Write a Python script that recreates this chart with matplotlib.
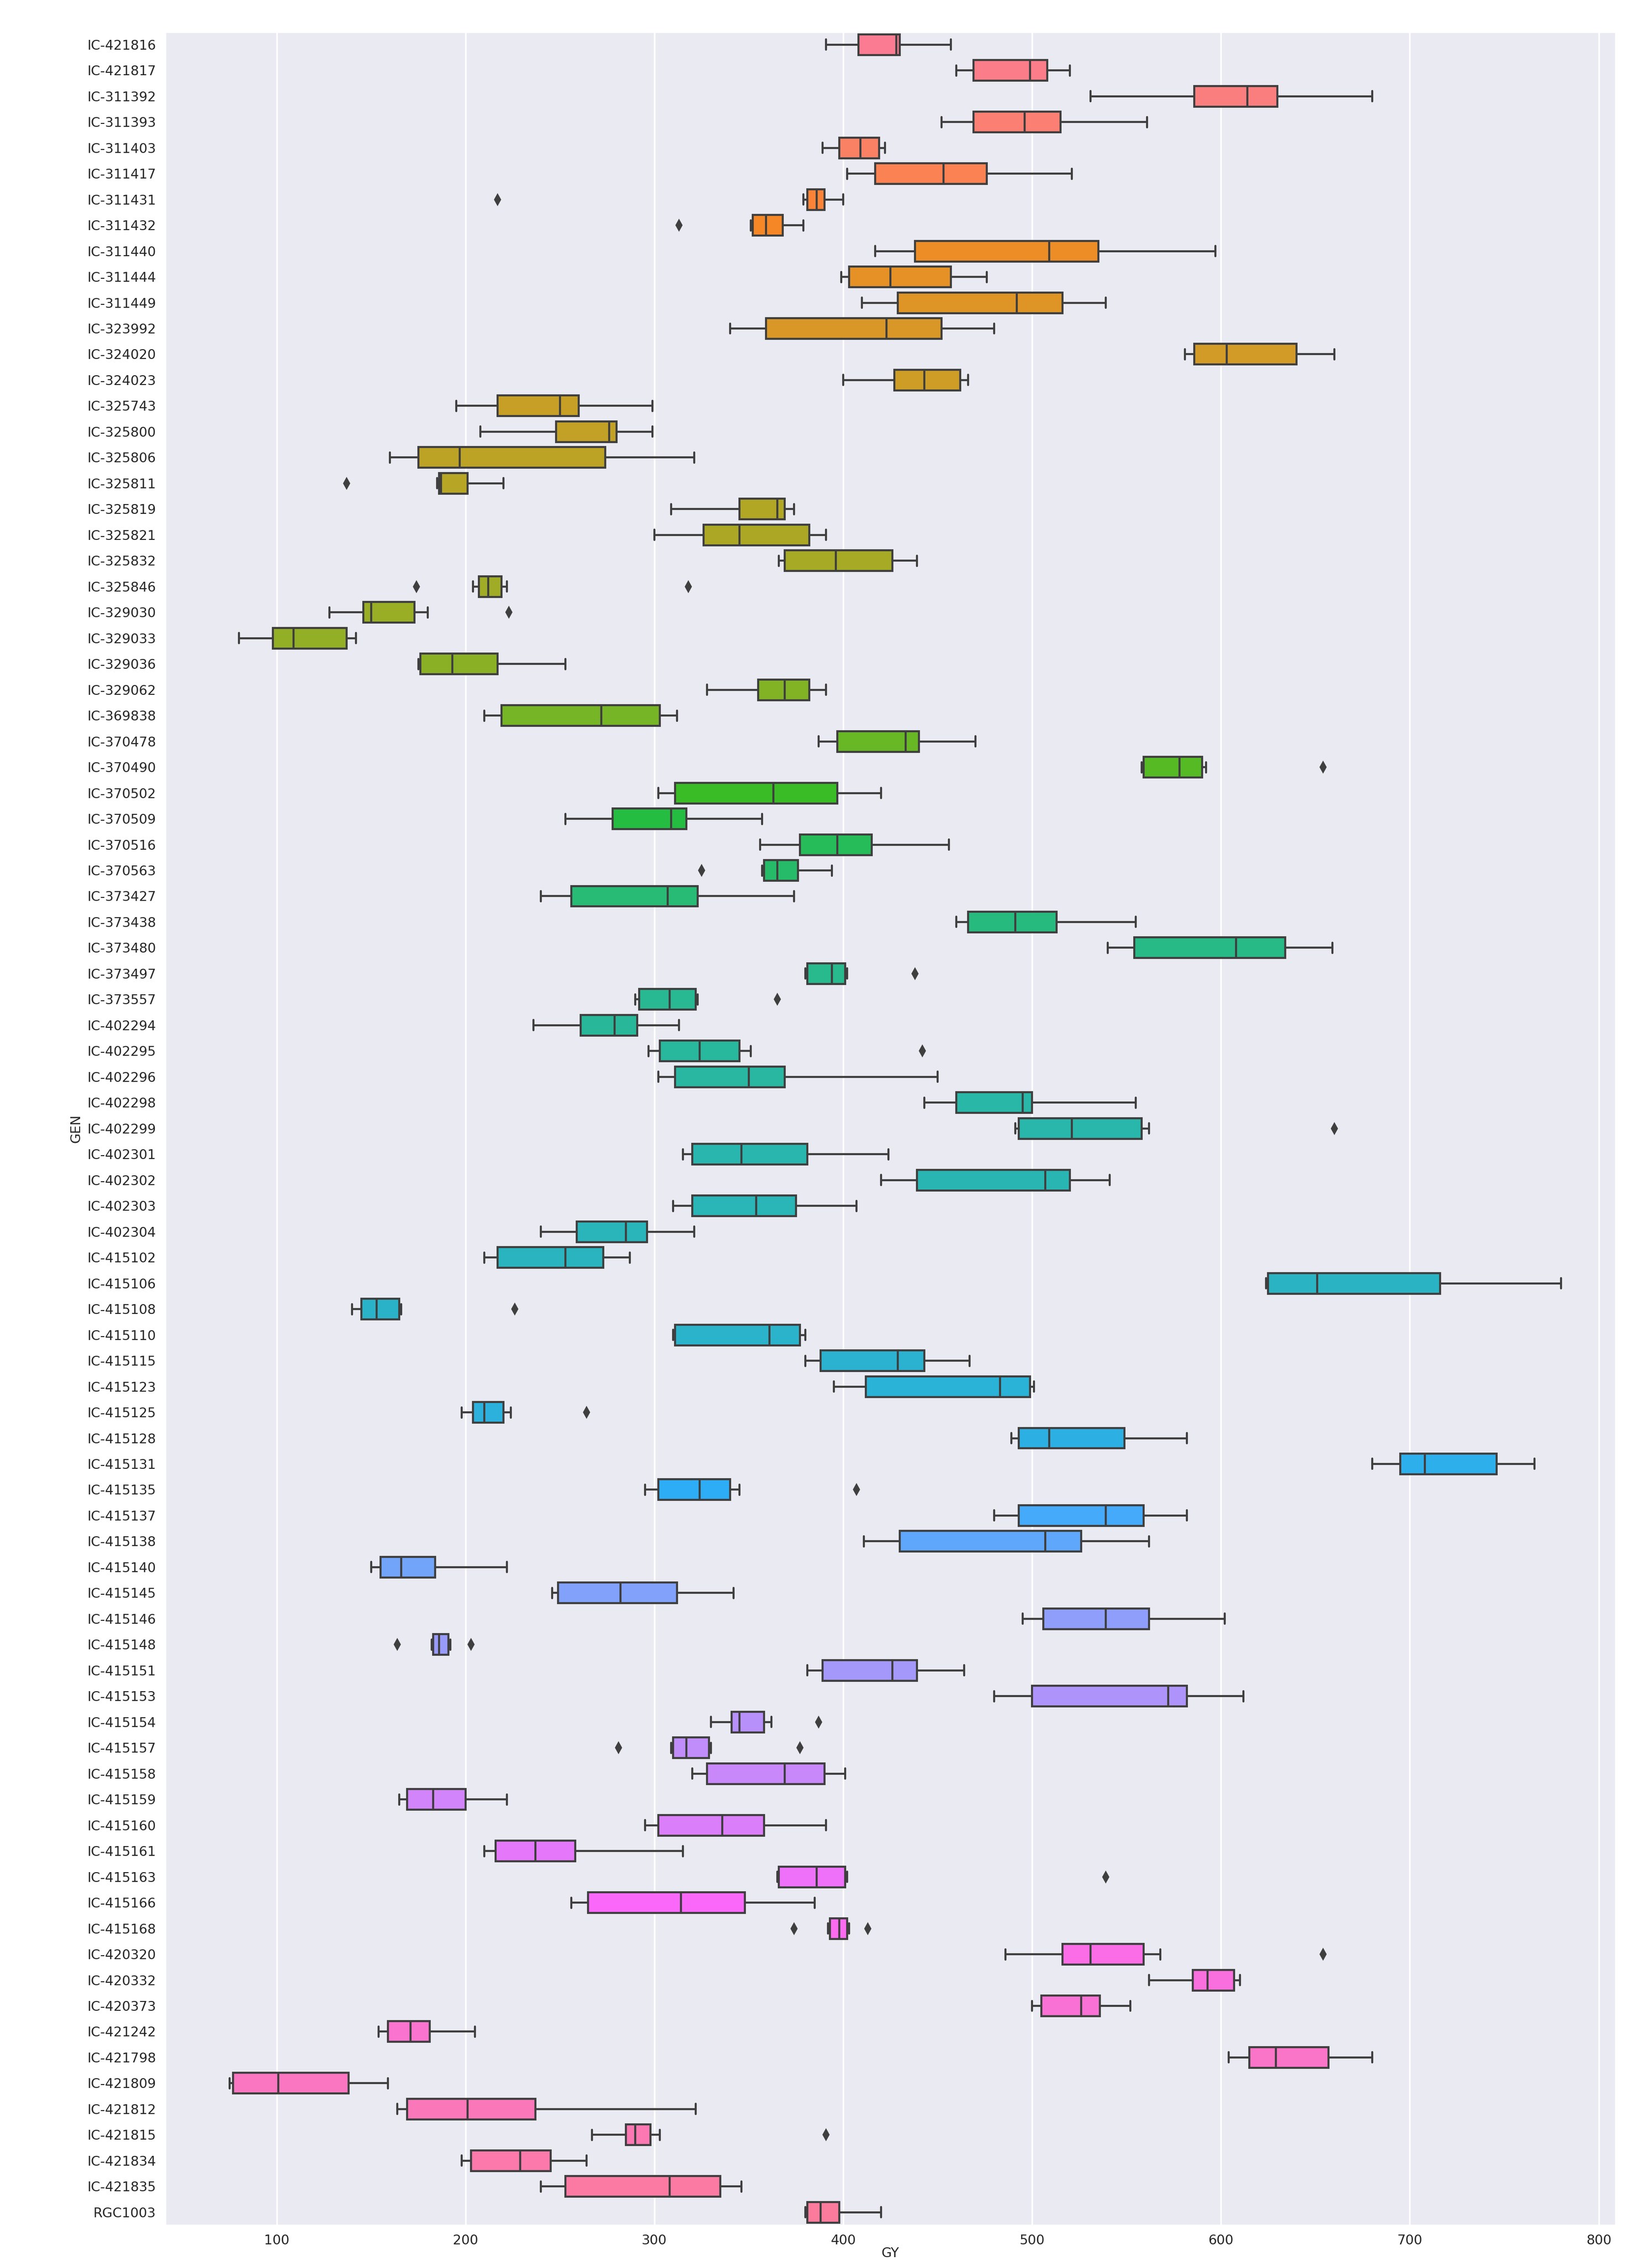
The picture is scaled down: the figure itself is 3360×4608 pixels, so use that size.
import matplotlib
matplotlib.use("Agg")
import matplotlib.pyplot as plt
import seaborn as sns

genotypes = ["IC-421816", "IC-421817", "IC-311392", "IC-311393", "IC-311403", "IC-311417",
             "IC-311431", "IC-311432", "IC-311440", "IC-311444", "IC-311449", "IC-323992",
             "IC-324020", "IC-324023", "IC-325743", "IC-325800", "IC-325806", "IC-325811",
             "IC-325819", "IC-325821", "IC-325832", "IC-325846", "IC-329030", "IC-329033",
             "IC-329036", "IC-329062", "IC-369838", "IC-370478", "IC-370490", "IC-370502",
             "IC-370509", "IC-370516", "IC-370563", "IC-373427", "IC-373438", "IC-373480",
             "IC-373497", "IC-373557", "IC-402294", "IC-402295", "IC-402296", "IC-402298",
             "IC-402299", "IC-402301", "IC-402302", "IC-402303", "IC-402304", "IC-415102",
             "IC-415106", "IC-415108", "IC-415110", "IC-415115", "IC-415123", "IC-415125",
             "IC-415128", "IC-415131", "IC-415135", "IC-415137", "IC-415138", "IC-415140",
             "IC-415145", "IC-415146", "IC-415148", "IC-415151", "IC-415153", "IC-415154",
             "IC-415157", "IC-415158", "IC-415159", "IC-415160", "IC-415161", "IC-415163",
             "IC-415166", "IC-415168", "IC-420320", "IC-420332", "IC-420373", "IC-421242",
             "IC-421798", "IC-421809", "IC-421812", "IC-421815", "IC-421834", "IC-421835",
             "RGC1003"]

# whisker low, q1, median, q3, whisker high
box_stats = [
    (391, 408, 428, 430, 457), (460, 469, 499, 508, 520), (531, 586, 614, 630, 680),
    (452, 469, 496, 515, 561), (389, 398, 409, 419, 422), (402, 417, 453, 476, 521),
    (379, 381, 386, 390, 400), (351, 352, 359, 368, 379), (417, 438, 509, 535, 597),
    (399, 403, 425, 457, 476), (410, 429, 492, 516, 539), (340, 359, 423, 452, 480),
    (581, 586, 603, 640, 660), (400, 427, 443, 462, 466), (195, 217, 250, 260, 299),
    (208, 248, 276, 280, 299), (160, 175, 197, 274, 321), (185, 186, 187, 201, 220),
    (309, 345, 365, 369, 374), (300, 326, 345, 382, 391), (366, 369, 396, 426, 439),
    (204, 207, 212, 219, 222), (128, 146, 150, 173, 180), (80, 98, 109, 137, 142),
    (175, 176, 193, 217, 253), (328, 355, 369, 382, 391), (210, 219, 272, 303, 312),
    (387, 397, 433, 440, 470), (558, 559, 578, 590, 592), (302, 311, 363, 397, 420),
    (253, 278, 309, 317, 357), (356, 377, 397, 415, 456), (357, 358, 365, 376, 394),
    (240, 256, 307, 323, 374), (460, 466, 491, 513, 555), (540, 554, 608, 634, 659),
    (380, 381, 394, 401, 402), (290, 292, 308, 322, 323), (236, 261, 279, 291, 313),
    (297, 303, 324, 345, 351), (302, 311, 350, 369, 450), (443, 460, 495, 500, 555),
    (491, 493, 521, 558, 562), (315, 320, 346, 381, 424), (420, 439, 507, 520, 541),
    (310, 320, 354, 375, 407), (240, 259, 285, 296, 321), (210, 217, 253, 273, 287),
    (624, 625, 651, 716, 780), (140, 145, 153, 165, 166), (310, 311, 361, 377, 380),
    (380, 388, 429, 443, 467), (395, 412, 483, 499, 501), (198, 204, 210, 220, 224),
    (489, 493, 509, 549, 582), (680, 695, 708, 746, 766), (295, 302, 324, 340, 345),
    (480, 493, 539, 559, 582), (411, 430, 507, 526, 562), (150, 155, 166, 184, 222),
    (246, 249, 282, 312, 342), (495, 506, 539, 562, 602), (182, 183, 186, 191, 192),
    (381, 389, 426, 439, 464), (480, 500, 572, 582, 612), (330, 341, 345, 358, 362),
    (309, 310, 317, 329, 330), (320, 328, 369, 390, 401), (165, 169, 183, 200, 222),
    (295, 302, 336, 358, 391), (210, 216, 237, 258, 315), (365, 366, 386, 401, 402),
    (256, 265, 314, 348, 385), (392, 393, 398, 402, 403), (486, 516, 531, 559, 568),
    (562, 585, 593, 607, 610), (500, 505, 526, 536, 552), (154, 159, 171, 181, 205),
    (604, 615, 629, 657, 680), (75, 77, 101, 138, 159), (164, 169, 201, 237, 322),
    (267, 285, 290, 298, 303), (198, 203, 229, 245, 264), (240, 253, 308, 335, 346),
    (380, 381, 388, 398, 420),
]

outliers = {
    "IC-311431": [217], "IC-311432": [313], "IC-325811": [137], "IC-325846": [174, 318],
    "IC-329030": [223], "IC-370490": [654], "IC-370563": [325], "IC-373497": [438],
    "IC-373557": [365], "IC-402295": [442], "IC-402299": [660], "IC-415108": [226],
    "IC-415125": [264], "IC-415135": [407], "IC-415148": [164, 203], "IC-415154": [387],
    "IC-415157": [281, 377], "IC-415163": [539], "IC-415168": [374, 413],
    "IC-420320": [654], "IC-421815": [391],
}

sns.set_style("darkgrid")
plt.rcParams['font.family'] = ['DejaVu Sans']

stats = []
for name, (lo, q1, med, q3, hi) in zip(genotypes, box_stats):
    stats.append(dict(label=name, whislo=lo, q1=q1, med=med, q3=q3, whishi=hi,
                      fliers=outliers.get(name, [])))

colors = sns.husl_palette(len(genotypes), l=0.68, s=0.95)
edge = "#3f3f3f"

fig, ax = plt.subplots(figsize=(11.2, 15.36), dpi=300)
fig.subplots_adjust(left=0.1, right=0.978, top=0.986, bottom=0.018)
positions = list(range(len(genotypes)))
bp = ax.bxp(stats, positions=positions, vert=False, widths=0.8, patch_artist=True,
            boxprops=dict(edgecolor=edge, linewidth=1.0),
            medianprops=dict(color=edge, linewidth=1.0),
            whiskerprops=dict(color=edge, linewidth=1.0),
            capprops=dict(color=edge, linewidth=1.0),
            flierprops=dict(marker="d", markerfacecolor=edge, markeredgecolor=edge,
                            markersize=3))
for patch, c in zip(bp["boxes"], colors):
    patch.set_facecolor(c)
for cap in bp["caps"]:
    y = cap.get_ydata()
    mid = (y[0] + y[1]) / 2
    cap.set_ydata([mid - 0.2, mid + 0.2])

ax.set_ylim(len(genotypes) - 0.5, -0.5)
ax.set_yticks(positions)
ax.set_yticklabels(genotypes, fontsize=6.5)
ax.set_xlim(41, 809)
ax.set_xticks([100, 200, 300, 400, 500, 600, 700, 800])
ax.tick_params(axis="x", labelsize=6.5, pad=1)
ax.tick_params(axis="y", pad=1)
ax.grid(axis="y", visible=False)
ax.set_xlabel("GY", fontsize=6.5, labelpad=0)
ax.set_ylabel("GEN", fontsize=6.5, labelpad=2)
fig.savefig("out.png", dpi=300)
